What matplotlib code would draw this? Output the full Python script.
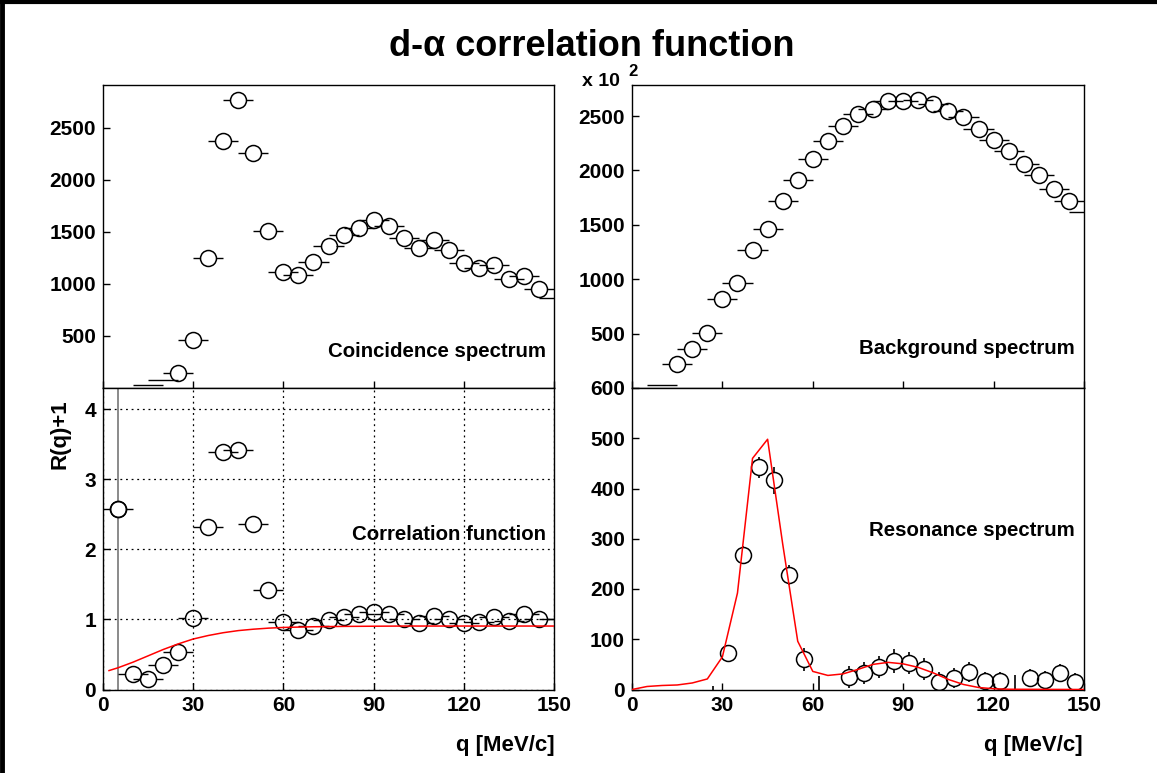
import numpy as np
import matplotlib.pyplot as plt
from matplotlib.lines import Line2D
from matplotlib.collections import LineCollection

plt.rcParams['font.family'] = ['Liberation Sans', 'DejaVu Sans']
plt.rcParams['font.weight'] = 'bold'

# coincidence spectrum, counts per 5 MeV/c bin
coinc_q = [15, 20, 25, 30, 35, 40, 45, 50, 55, 60, 65, 70, 75, 80, 85, 90, 95,
           100, 105, 110, 115, 120, 125, 130, 135, 140, 145, 150]
coinc_n = [26, 74, 148, 458, 1253, 2372, 2766, 2253, 1506, 1115, 1083, 1211, 1365,
           1474, 1532, 1612, 1558, 1445, 1340, 1420, 1324, 1205, 1154, 1179, 1045,
           1074, 955, 869]

# background spectrum (units of 10^2)
bkg_q = [10, 15, 20, 25, 30, 35, 40, 45, 50, 55, 60, 65, 70, 75, 80, 85, 90, 95,
         100, 105, 110, 115, 120, 125, 130, 135, 140, 145, 150]
bkg_n = [25, 224, 362, 506, 815, 969, 1266, 1462, 1719, 1915, 2105, 2270, 2408, 2518,
         2567, 2638, 2638, 2644, 2607, 2543, 2491, 2377, 2276, 2175, 2056, 1955, 1826,
         1719, 1618]

# correlation function R(q)+1
corr_q = [5, 10, 15, 20, 25, 30, 35, 40, 45, 50, 55, 60, 65, 70, 75, 80, 85, 90, 95,
          100, 105, 110, 115, 120, 125, 130, 135, 140, 145, 150]
corr_r = [2.57, 0.22, 0.15, 0.35, 0.54, 1.02, 2.32, 3.39, 3.41, 2.36, 1.42, 0.96, 0.85,
          0.90, 0.99, 1.04, 1.07, 1.10, 1.07, 1.00, 0.95, 1.05, 1.01, 0.95, 0.96, 1.04,
          0.98, 1.07, 1.01, 1.00]
corr_err = [6.0, 0.05, 0.05, 0.05, 0.05, 0.05, 0.05, 0.05, 0.05, 0.05, 0.05, 0.05, 0.05,
            0.05, 0.05, 0.05, 0.05, 0.05, 0.05, 0.05, 0.05, 0.05, 0.05, 0.05, 0.05, 0.05,
            0.05, 0.05, 0.05, 0.05]
corr_fit_q = [2, 5, 10, 15, 20, 25, 30, 35, 40, 45, 50, 55, 60, 70, 80, 100, 150]
corr_fit = [0.27, 0.31, 0.39, 0.48, 0.57, 0.65, 0.72, 0.77, 0.81, 0.84, 0.86, 0.875,
            0.885, 0.895, 0.90, 0.905, 0.905]

# resonance spectrum
res_q = [27, 32, 37, 42, 47, 52, 57, 62, 72, 77, 82, 87, 92, 97, 102, 107, 112, 117,
         122, 127, 132, 137, 142, 147]
res_n = [0, 73, 267, 442, 416, 227, 60, 0, 24, 32, 44, 56, 53, 41, 15, 22, 35, 17, 17,
         0, 23, 19, 32, 15]
res_err = [6, 16, 18, 21, 26, 20, 23, 26, 22, 22, 22, 24, 22, 22, 20, 20, 20, 18, 18,
           28, 18, 18, 18, 17]
res_fit_q = [0, 5, 10, 15, 20, 25, 30, 35, 40, 45, 50, 55, 60, 65, 70, 75, 80, 85, 90,
             95, 100, 105, 110, 115, 120, 125, 150]
res_fit = [0, 6, 8, 9, 13, 21, 65, 192, 460, 498, 290, 96, 36, 28, 31, 40, 50, 54, 51,
           44, 33, 20, 10, 4, 1.5, 0.5, 0]

W, H, DPI = 1157, 773, 100
MS = 11.5  # marker size, points
fig = plt.figure(figsize=(W / DPI, H / DPI), dpi=DPI)

def box(x0, y0, x1, y1):
    return [x0 / W, 1 - y1 / H, (x1 - x0) / W, (y1 - y0) / H]

ax_tl = fig.add_axes(box(103, 85, 554, 388))
ax_tr = fig.add_axes(box(632, 85, 1084, 388))
ax_bl = fig.add_axes(box(103, 388, 554, 689.5))
ax_br = fig.add_axes(box(632, 388, 1084, 689.5))

ylims = {ax_tl: (0, 2910), ax_tr: (0, 2786), ax_bl: (0, 4.3), ax_br: (0, 600)}
for ax in (ax_tl, ax_tr, ax_bl, ax_br):
    ax.set_xlim(0, 150)
    ax.set_ylim(*ylims[ax])
    ax.set_xticks([0, 30, 60, 90, 120, 150])
    ax.tick_params(direction='in', length=5, width=1, labelsize=15, pad=5)
    for s in ax.spines.values():
        s.set_linewidth(1.0)
for ax in (ax_tl, ax_tr):
    ax.tick_params(labelbottom=False)
    ax.set_yticks([500, 1000, 1500, 2000, 2500])
ax_bl.set_yticks([0, 1, 2, 3, 4])
ax_br.set_yticks([0, 100, 200, 300, 400, 500, 600])

def px_per_unit(ax, axis):
    pos = ax.get_position()
    if axis == 'x':
        lo, hi = ax.get_xlim()
        return pos.width * W / (hi - lo)
    lo, hi = ax.get_ylim()
    return pos.height * H / (hi - lo)

def draw_points(ax, q, y, show, xerr=None, yerr=None, ecolor='black'):
    rad = MS * DPI / 72 / 2
    gx = rad / px_per_unit(ax, 'x')
    gy = rad / px_per_unit(ax, 'y')
    segs, segs_v = [], []
    for i, (xi, yi) in enumerate(zip(q, y)):
        if xerr is not None:
            if show[i]:
                segs += [[(xi - xerr, yi), (xi - gx, yi)], [(xi + gx, yi), (xi + xerr, yi)]]
            else:
                segs.append([(xi - xerr, yi), (xi + xerr, yi)])
        if yerr is not None:
            e = yerr[i]
            if show[i]:
                if e > gy:
                    segs_v += [[(xi, yi - e), (xi, yi - gy)], [(xi, yi + gy), (xi, yi + e)]]
            else:
                segs_v.append([(xi, yi - e), (xi, yi + e)])
    ax.add_collection(LineCollection(segs, colors='black', linewidths=1.0, zorder=2))
    ax.add_collection(LineCollection(segs_v, colors=ecolor, linewidths=1.2, zorder=2))
    qm = [a for a, s in zip(q, show) if s]
    ym = [b for b, s in zip(y, show) if s]
    ax.plot(qm, ym, 'o', ms=MS, mfc='none', mec='black', mew=1.1, zorder=3)

# top left: coincidence
show = [n > 100 and qq < 150 for qq, n in zip(coinc_q, coinc_n)]
draw_points(ax_tl, coinc_q, coinc_n, show, xerr=5)

# top right: background
show = [n > 100 and qq < 150 for qq, n in zip(bkg_q, bkg_n)]
draw_points(ax_tr, bkg_q, bkg_n, show, xerr=5)

# bottom left: correlation function
ax_bl.grid(True, color='black', linestyle=(0, (1.5, 3)), linewidth=0.9)
ax_bl.set_axisbelow(True)
show = [qq < 150 for qq in corr_q]
draw_points(ax_bl, corr_q[:1], corr_r[:1], show[:1], yerr=corr_err[:1], ecolor='#777777')
draw_points(ax_bl, corr_q, corr_r, show, xerr=5)
ax_bl.plot(corr_fit_q, corr_fit, color='red', lw=1.1, zorder=4)

# bottom right: resonance
show = [n > 0 for n in res_n]
draw_points(ax_br, res_q, res_n, show, yerr=res_err)
ax_br.plot(res_fit_q, res_fit, color='red', lw=1.1, zorder=4)

# texts
fig.text(592 / W, 1 - 47 / H, 'd-α correlation function', ha='center', va='center',
         fontsize=26, fontweight='bold')
fig.text(601 / W, 1 - 81 / H, 'x 10', ha='center', va='center', fontsize=14)
fig.text(633 / W, 1 - 72 / H, '2', ha='center', va='center', fontsize=12)
fig.text(546 / W, 1 - 351 / H, 'Coincidence spectrum', ha='right', va='center', fontsize=14.7)
fig.text(1075 / W, 1 - 349 / H, 'Background spectrum', ha='right', va='center', fontsize=14.7)
fig.text(546 / W, 1 - 535 / H, 'Correlation function', ha='right', va='center', fontsize=14.7)
fig.text(1075 / W, 1 - 531 / H, 'Resonance spectrum', ha='right', va='center', fontsize=14.7)
fig.text(60 / W, 1 - 434 / H, 'R(q)+1', ha='center', va='center', rotation=90, fontsize=16)
fig.text(555 / W, 1 - 745 / H, 'q [MeV/c]', ha='right', va='center', fontsize=16)
fig.text(1083 / W, 1 - 745 / H, 'q [MeV/c]', ha='right', va='center', fontsize=16)

# frame lines at top and left
fig.add_artist(Line2D([0, 1], [1 - 1.5 / H, 1 - 1.5 / H], color='black', lw=3,
                      transform=fig.transFigure))
fig.add_artist(Line2D([2 / W, 2 / W], [0, 1], color='black', lw=3.5,
                      transform=fig.transFigure))

fig.savefig('out.png', dpi=DPI)
